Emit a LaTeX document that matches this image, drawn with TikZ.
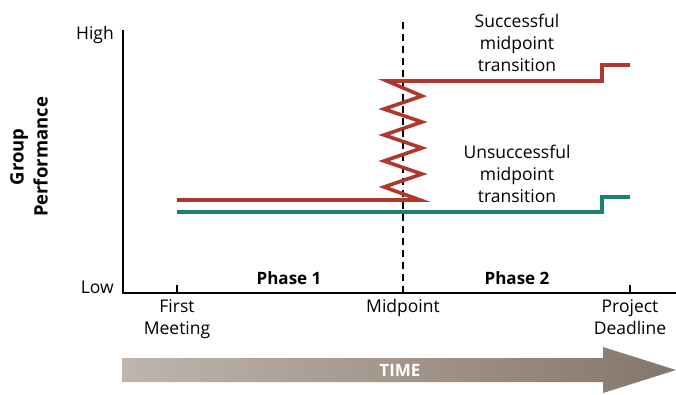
\documentclass[tikz,border=0pt]{standalone}
\usepackage{fontspec}
\setmainfont{Open Sans}
\definecolor{succ}{HTML}{B0372B}
\definecolor{unsucc}{HTML}{1B8078}
\definecolor{arrL}{HTML}{BFB5AC}
\definecolor{arrR}{HTML}{86766A}
\tikzset{
  lbl/.style={font=\fontsize{17.5}{22}\selectfont, align=center, inner sep=0pt},
  phase/.style={font=\fontsize{17}{22}\selectfont\bfseries, inner sep=0pt},
  axisline/.style={line width=1.6pt, black},
  perf/.style={line width=3.6pt, line join=miter},
  tick/.style={line width=1.4pt}
}
\begin{document}
\begin{tikzpicture}[x=1pt,y=-1pt]
\useasboundingbox (0,0) rectangle (676,394);
% axes
\coordinate (ytop) at (123,30);
\coordinate (origin) at (123,293);
\coordinate (xend) at (676,293);
\draw[axisline] (ytop) -- (origin) -- (xend);
% ticks
\coordinate (fm) at (177,293);
\coordinate (pd) at (630,293);
\draw[tick] (fm) -- ++(0,-8);
\draw[tick] (pd) -- ++(0,-8);
% midpoint dashed
\coordinate (mtop) at (403,22);
\coordinate (mbot) at (403,293);
\draw[line width=1.4pt, dash pattern=on 7pt off 5pt] (mtop) -- (mbot);
% unsuccessful
\draw[perf, unsucc] (177,212) -- (602,212) -- (602,197) -- (630,197);
% successful
\draw[perf, succ] (177,200) -- (420,200)
  -- (384,187) -- (422,174) -- (384,161) -- (422,148) -- (384,135)
  -- (422,122) -- (384,109) -- (422,96) -- (387,81) -- (602,81) -- (602,65) -- (630,65);
% labels
\node[lbl, anchor=east] (high) at (114,35) {High};
\node[lbl, anchor=east] (low) at (114,287) {Low};
\node[phase, align=center, rotate=90, font=\fontsize{18.5}{24}\selectfont\bfseries] (gp) at (29,157) {Group\\Performance};
\node[lbl] (s) at (517,43) {Successful\\midpoint\\transition};
\node[lbl] (u) at (517,174) {Unsuccessful\\midpoint\\transition};
\node[phase] (p1) at (289,278) {Phase 1};
\node[phase] (p2) at (517,278) {Phase 2};
\node[lbl, anchor=north] (fml) at (177,299) {First\\Meeting};
\node[lbl, anchor=north] (mpl) at (403,299) {Midpoint};
\node[lbl, anchor=north] (pdl) at (630,299) {Project\\Deadline};
% time arrow
\shade[left color=arrL, right color=arrR]
  (122,358) -- (603,358) -- (603,347) -- (676,370) -- (603,393) -- (603,382) -- (122,382) -- cycle;
\node[phase, white, font=\fontsize{17}{18}\selectfont\bfseries] (time) at (400,370) {TIME};
\end{tikzpicture}
\end{document}
